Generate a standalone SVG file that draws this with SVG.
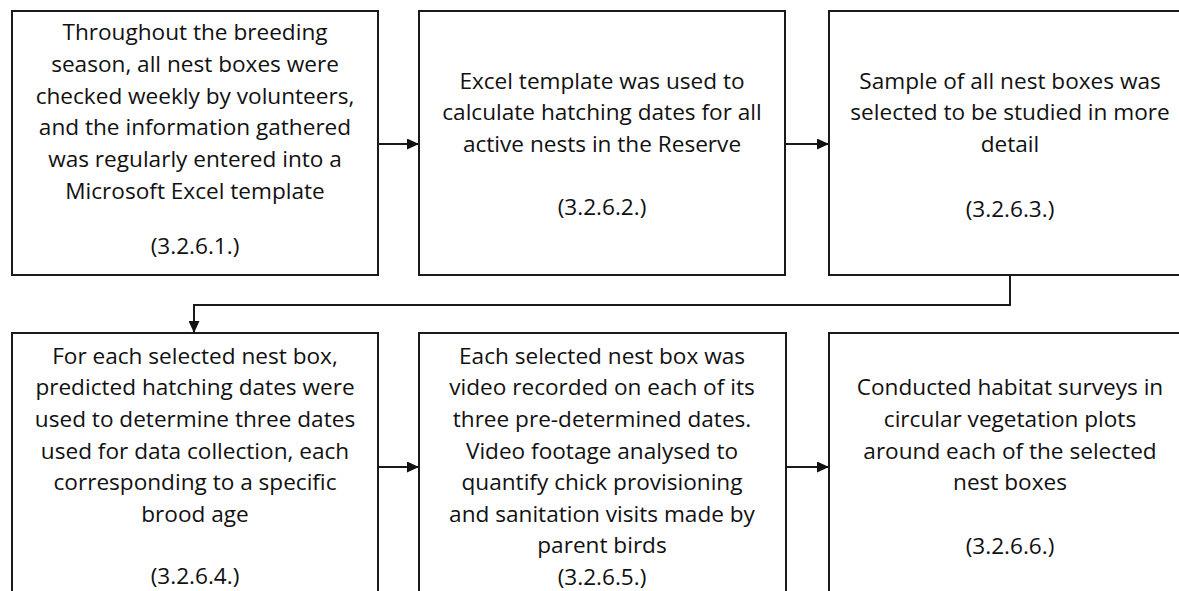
<svg xmlns="http://www.w3.org/2000/svg" width="1179" height="591" viewBox="0 0 1179 591">
<style>
.box{fill:#fff;stroke:#1a1a1a;stroke-width:2}
.t{font-family:"Open Sans","Liberation Sans",sans-serif;font-size:22.6px;fill:#111;text-anchor:middle}
.c{fill:none;stroke:#1a1a1a;stroke-width:2}
</style>
<defs>
<marker id="ah" viewBox="0 0 12 11" refX="12" refY="5.5" markerWidth="12" markerHeight="11" markerUnits="userSpaceOnUse" orient="auto">
<path d="M0,0 L12,5.5 L0,11 Z" fill="#111"/>
</marker>
</defs>
<rect width="1179" height="591" fill="#fff"/>
<g id="n1">
<rect class="box" x="12" y="11" width="366" height="264"/>
<text class="t" x="195" y="40">Throughout the breeding</text>
<text class="t" x="195" y="72">season, all nest boxes were</text>
<text class="t" x="195" y="104">checked weekly by volunteers,</text>
<text class="t" x="195" y="135">and the information gathered</text>
<text class="t" x="195" y="167">was regularly entered into a</text>
<text class="t" x="195" y="199">Microsoft Excel template</text>
<text class="t" x="195" y="254">(3.2.6.1.)</text>
</g>
<g id="n2">
<rect class="box" x="419" y="11" width="366" height="264"/>
<text class="t" x="602" y="89">Excel template was used to</text>
<text class="t" x="602" y="120">calculate hatching dates for all</text>
<text class="t" x="602" y="152">active nests in the Reserve</text>
<text class="t" x="602" y="215">(3.2.6.2.)</text>
</g>
<g id="n3">
<rect class="box" x="829" y="11" width="362" height="264"/>
<text class="t" x="1010" y="89">Sample of all nest boxes was</text>
<text class="t" x="1010" y="120">selected to be studied in more</text>
<text class="t" x="1010" y="152">detail</text>
<text class="t" x="1010" y="217">(3.2.6.3.)</text>
</g>
<g id="n4">
<rect class="box" x="12" y="333" width="366" height="270"/>
<text class="t" x="195" y="364">For each selected nest box,</text>
<text class="t" x="195" y="395">predicted hatching dates were</text>
<text class="t" x="195" y="427">used to determine three dates</text>
<text class="t" x="195" y="459">used for data collection, each</text>
<text class="t" x="195" y="490">corresponding to a specific</text>
<text class="t" x="195" y="522">brood age</text>
<text class="t" x="195" y="584">(3.2.6.4.)</text>
</g>
<g id="n5">
<rect class="box" x="419" y="333" width="367" height="270"/>
<text class="t" x="602" y="364">Each selected nest box was</text>
<text class="t" x="602" y="395">video recorded on each of its</text>
<text class="t" x="602" y="427">three pre-determined dates.</text>
<text class="t" x="602" y="459">Video footage analysed to</text>
<text class="t" x="602" y="490">quantify chick provisioning</text>
<text class="t" x="602" y="522">and sanitation visits made by</text>
<text class="t" x="602" y="553">parent birds</text>
<text class="t" x="602" y="585">(3.2.6.5.)</text>
</g>
<g id="n6">
<rect class="box" x="829" y="333" width="362" height="270"/>
<text class="t" x="1010" y="395">Conducted habitat surveys in</text>
<text class="t" x="1010" y="427">circular vegetation plots</text>
<text class="t" x="1010" y="459">around each of the selected</text>
<text class="t" x="1010" y="490">nest boxes</text>
<text class="t" x="1010" y="554">(3.2.6.6.)</text>
</g>
<g id="connectors">
<line class="c" x1="378" y1="144" x2="419" y2="144" marker-end="url(#ah)"/>
<line class="c" x1="785" y1="144" x2="829" y2="144" marker-end="url(#ah)"/>
<polyline class="c" points="1010,275 1010,305 194,305 194,333" marker-end="url(#ah)"/>
<line class="c" x1="378" y1="467" x2="419" y2="467" marker-end="url(#ah)"/>
<line class="c" x1="786" y1="467" x2="829" y2="467" marker-end="url(#ah)"/>
</g>
</svg>
